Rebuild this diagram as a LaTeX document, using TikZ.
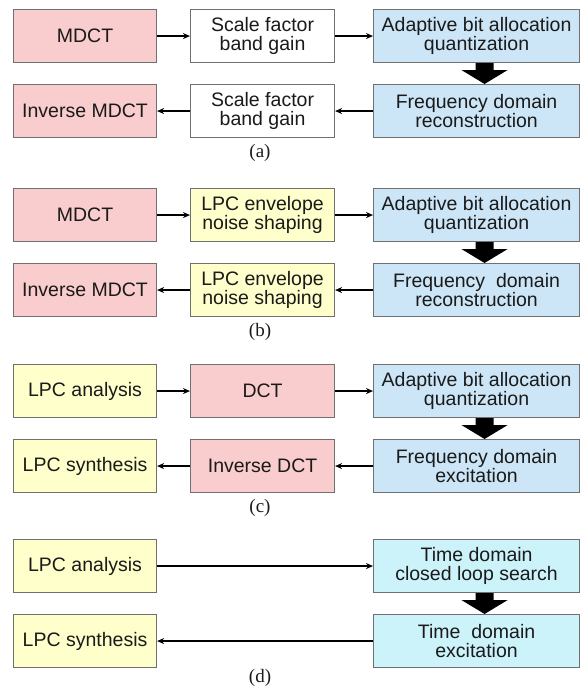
\documentclass[tikz,border=0pt]{standalone}
\usepackage{fontspec}
\setmainfont{Liberation Sans}
\newfontfamily\capfont{Liberation Serif}
\usetikzlibrary{calc,arrows.meta}

\definecolor{pinkc}{RGB}{249,205,205}
\definecolor{bluec}{RGB}{204,230,247}
\definecolor{cyanc}{RGB}{204,243,250}
\definecolor{yellc}{RGB}{255,255,204}
\definecolor{edgec}{RGB}{112,112,112}
\definecolor{inkc}{RGB}{26,26,26}

% thick downward block arrow between two stacked boxes
\newcommand\bigdown[2]{%
  \coordinate (bt) at ($(#1.south)+(8,0)$);
  \coordinate (bb) at ($(#2.north)+(8,0)$);
  \fill[black] ($(bt)+(-9,0)$) -- ($(bt)+(9,0)$) -- ($(bt)+(9,7)$) -- ($(bt)+(23,7)$)
    -- (bb) -- ($(bt)+(-23,7)$) -- ($(bt)+(-9,7)$) -- cycle;
}

\begin{document}
\begin{tikzpicture}[x=1pt,y=-1pt,
  blk/.style={draw=edgec,line width=1.1pt,anchor=north west,align=center,
    minimum height=53pt,inner sep=1pt,text=inkc,
    font=\fontsize{19.5}{18.5}\selectfont},
  colA/.style={blk,minimum width=143pt},
  colB/.style={blk,minimum width=144pt},
  colC/.style={blk,minimum width=206pt},
  flow/.style={line width=2pt,-{Stealth[length=7pt,width=6pt]}},
  sublabel/.style={font=\capfont\fontsize{19}{19}\selectfont,text=inkc,inner sep=1pt}]
\useasboundingbox (0,0) rectangle (580,690);

% ---- (a) MDCT coder with scale factors ----
\node[colA,fill=pinkc] (a11) at (13,9) {MDCT};
\node[colB,fill=white] (a12) at (190,9) {Scale factor\\band gain};
\node[colC,fill=bluec] (a13) at (373,9) {Adaptive bit allocation\\quantization};
\node[colA,fill=pinkc] (a21) at (13,84) {Inverse MDCT};
\node[colB,fill=white] (a22) at (190,84) {Scale factor\\band gain};
\node[colC,fill=bluec] (a23) at (373,84) {Frequency domain\\reconstruction};
\draw[flow] (a11) -- (a12);
\draw[flow] (a12) -- (a13);
\draw[flow] (a23) -- (a22);
\draw[flow] (a22) -- (a21);
\bigdown{a13}{a23}
\node[sublabel] (capa) at (260,153) {(a)};

% ---- (b) MDCT coder with LPC envelope ----
\node[colA,fill=pinkc] (b11) at (13,188) {MDCT};
\node[colB,fill=yellc] (b12) at (190,188) {LPC envelope\\noise shaping};
\node[colC,fill=bluec] (b13) at (373,188) {Adaptive bit allocation\\quantization};
\node[colA,fill=pinkc] (b21) at (13,263) {Inverse MDCT};
\node[colB,fill=yellc] (b22) at (190,263) {LPC envelope\\noise shaping};
\node[colC,fill=bluec] (b23) at (373,263) {Frequency\ \ domain\\reconstruction};
\draw[flow] (b11) -- (b12);
\draw[flow] (b12) -- (b13);
\draw[flow] (b23) -- (b22);
\draw[flow] (b22) -- (b21);
\bigdown{b13}{b23}
\node[sublabel] (capb) at (260,332) {(b)};

% ---- (c) transform coded excitation ----
\node[colA,fill=yellc] (c11) at (13,364) {LPC analysis};
\node[colB,fill=pinkc] (c12) at (190,364) {DCT};
\node[colC,fill=bluec] (c13) at (373,364) {Adaptive bit allocation\\quantization};
\node[colA,fill=yellc] (c21) at (13,439) {LPC synthesis};
\node[colB,fill=pinkc] (c22) at (190,439) {Inverse DCT};
\node[colC,fill=bluec] (c23) at (373,439) {Frequency domain\\excitation};
\draw[flow] (c11) -- (c12);
\draw[flow] (c12) -- (c13);
\draw[flow] (c23) -- (c22);
\draw[flow] (c22) -- (c21);
\bigdown{c13}{c23}
\node[sublabel] (capc) at (260,508) {(c)};

% ---- (d) time domain coder ----
\node[colA,fill=yellc] (d11) at (13,539) {LPC analysis};
\node[colC,fill=cyanc] (d13) at (373,539) {Time domain\\closed loop search};
\node[colA,fill=yellc] (d21) at (13,614) {LPC synthesis};
\node[colC,fill=cyanc] (d23) at (373,614) {Time\ \ domain\\excitation};
\draw[flow] (d11) -- (d13);
\draw[flow] (d23) -- (d21);
\bigdown{d13}{d23}
\node[sublabel] (capd) at (260,678) {(d)};
\end{tikzpicture}
\end{document}
